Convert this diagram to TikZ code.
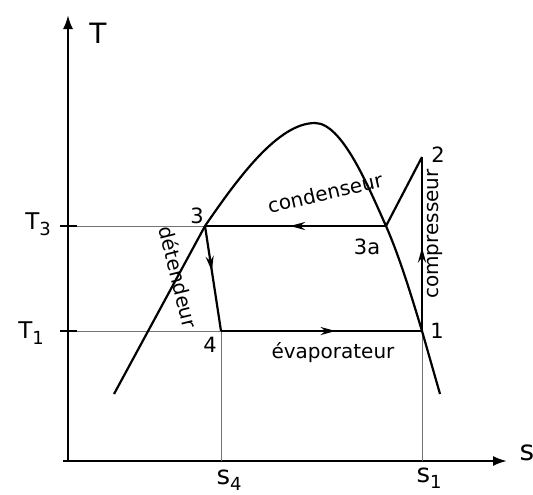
\documentclass[tikz,border=0pt]{standalone}
\usepackage{fontspec}
\setmainfont{DejaVu Sans}
\usetikzlibrary{arrows.meta, decorations.markings}
\newcommand{\lowidx}[1]{\raisebox{-0.45ex}{\small #1}}
\tikzset{
	axis/.style={line width=1.1pt, -{Latex[length=7pt, width=5pt]}},
	cycle/.style={line width=1.1pt, line join=miter},
	dome/.style={line width=1.1pt},
	guide/.style={line width=0.45pt, draw=black!55},
	midarrow/.style={postaction={decorate}, decoration={markings, mark=at position #1 with {\arrow{Stealth[length=7.5pt, width=4pt]}}}},
	pointlabel/.style={font=\fontsize{10.5}{12}\selectfont, inner sep=0pt},
	axislabel/.style={font=\fontsize{11.5}{13}\selectfont, inner sep=0pt},
	processlabel/.style={font=\fontsize{10}{12}\selectfont, inner sep=0pt},
}

\begin{document}
\begin{tikzpicture}[x=0.5pt, y=-0.5pt]
		\useasboundingbox (0,0) rectangle (533,494);
		% axes
		\coordinate (origin) at (68,461);
		\coordinate (ytip) at (68,15);
		\coordinate (xstart) at (63,461);
		\coordinate (xtip) at (507,461);
		\draw[axis] (origin) -- (ytip);
		\draw[axis] (xstart) -- (xtip);
		\node[axislabel, font=\fontsize{14}{16}\selectfont] (Tlab) at (98,33) {T};
		\node[axislabel, font=\fontsize{14}{16}\selectfont] (slab) at (527,453) {s};
		% cycle states
		\coordinate (st3) at (205,226);
		\coordinate (st3a) at (386,226);
		\coordinate (st2) at (422,157);
		\coordinate (st1) at (422,331);
		\coordinate (st4) at (221,331);
		\coordinate (peak) at (315,123);
		\coordinate (domeL) at (114,394);
		\coordinate (domeR) at (440,394);
		\coordinate (T3tick) at (60,226);
		\coordinate (T1tick) at (60,331);
		\coordinate (s4foot) at (221,461);
		\coordinate (s1foot) at (422,461);
		% guide lines
		\draw[guide] (T3tick) -- (st3);
		\draw[guide] (T1tick) -- (st4);
		\draw[guide] (st4) -- (s4foot);
		\draw[guide] (st1) -- (s1foot);
		\draw[line width=1.1pt] (T3tick) -- (77,226);
		\draw[line width=1.1pt] (T1tick) -- (77,331);
		% saturation dome
		\draw[dome] (domeL) -- (st3) .. controls (238,178) and (278,123) .. (peak)
			.. controls (342,123) and (368,186) .. (st3a)
			.. controls (400,258) and (412,298) .. (st1) -- (domeR);
		% cycle
		\draw[cycle, midarrow=0.53] (st3a) -- (st3);
		\draw[cycle, midarrow=0.43] (st3) -- (st4);
		\draw[cycle, midarrow=0.57] (st4) -- (st1);
		\draw[cycle, midarrow=0.48] (st1) -- (st2);
		\draw[cycle] (st2) -- (st3a);
		% labels
		\node[axislabel] (T3lab) at (38,224) {T\lowidx{3}};
		\node[axislabel] (T1lab) at (31,333) {T\lowidx{1}};
		\node[axislabel, font=\fontsize{13}{15}\selectfont] (s4lab) at (229,480) {s\lowidx{4}};
		\node[axislabel, font=\fontsize{13}{15}\selectfont] (s1lab) at (429,478) {s\lowidx{1}};
		\node[pointlabel] (lab3) at (197,216) {3};
		\node[pointlabel] (lab3a) at (367,247) {3a};
		\node[pointlabel] (lab2) at (438,155) {2};
		\node[pointlabel] (lab1) at (437,331) {1};
		\node[pointlabel] (lab4) at (210,345) {4};
		\node[processlabel, rotate=13] (condlab) at (325,193) {condenseur};
		\node[processlabel, rotate=90] (complab) at (435,234) {compresseur};
		\node[processlabel, rotate=-76] (detlab) at (179,277) {détendeur};
		\node[processlabel] (evaplab) at (333,353) {évaporateur};
	\end{tikzpicture}
\end{document}
